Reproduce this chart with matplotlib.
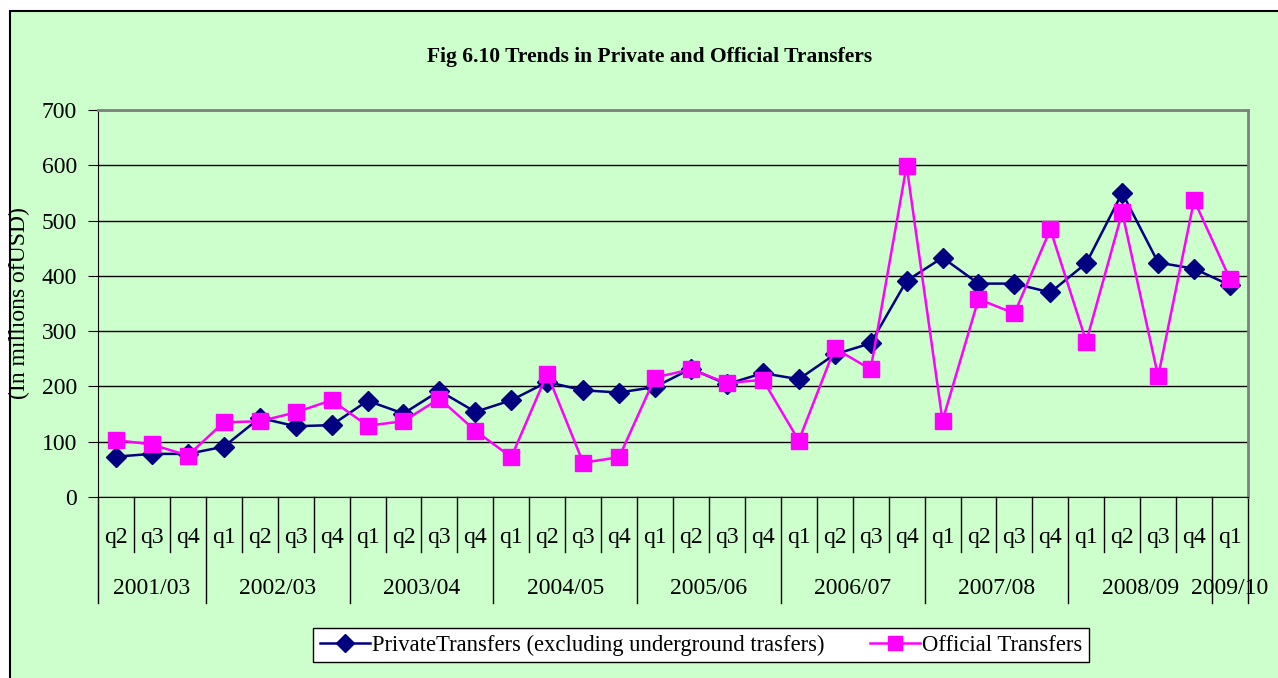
import matplotlib
matplotlib.use("Agg")
import matplotlib.pyplot as plt
from matplotlib.patches import Rectangle

quarters = ["q2", "q3", "q4",
            "q1", "q2", "q3", "q4",
            "q1", "q2", "q3", "q4",
            "q1", "q2", "q3", "q4",
            "q1", "q2", "q3", "q4",
            "q1", "q2", "q3", "q4",
            "q1", "q2", "q3", "q4",
            "q1", "q2", "q3", "q4",
            "q1"]
years = ["2001/03", "2002/03", "2003/04", "2004/05", "2005/06",
         "2006/07", "2007/08", "2008/09", "2009/10"]
year_counts = [3, 4, 4, 4, 4, 4, 4, 4, 1]

private = [73, 78, 78, 91, 143, 128, 130, 174, 151, 192, 154,
           175, 208, 193, 189, 199, 232, 204, 224, 213, 258, 278,
           391, 433, 386, 386, 370, 423, 550, 424, 413, 383]
official = [103, 95, 75, 135, 137, 153, 175, 129, 137, 178, 120,
            72, 223, 62, 72, 216, 231, 206, 212, 102, 269, 231,
            599, 138, 358, 332, 484, 281, 515, 218, 537, 394]

GREEN = "#CCFFCC"
NAVY = "#000080"
MAGENTA = "#FF00FF"
FONT = "Liberation Serif"
FS = 17

W, H = 1278, 678
fig = plt.figure(figsize=(W / 100, H / 100), dpi=100)
fig.patch.set_facecolor("white")
fig.patches.append(Rectangle((10 / W, -0.1), 1.2, 1.1 - 11 / H, transform=fig.transFigure,
                             facecolor=GREEN, edgecolor="black", linewidth=1.5, zorder=-5))

left, right, top, bottom = 98, 1248, 110, 497
ax = fig.add_axes([left / W, 1 - bottom / H, (right - left) / W, (bottom - top) / H])
ax.set_zorder(1)
ax.set_facecolor(GREEN)

n = len(quarters)
xs = [i + 0.5 for i in range(n)]
ax.plot(xs, private, color=NAVY, lw=1.8, marker="D", ms=10.5, mfc=NAVY, mec=NAVY, zorder=3,
        label="PrivateTransfers (excluding underground trasfers)")
ax.plot(xs, official, color=MAGENTA, lw=1.8, marker="s", ms=11.5, mfc=MAGENTA, mec=MAGENTA, zorder=4,
        label="Official Transfers")

ax.set_xlim(0, n)
ax.set_ylim(0, 700)
ax.set_yticks(range(0, 701, 100))
ax.yaxis.grid(True, color="black", lw=1)
ax.set_axisbelow(True)
for s in ["top", "right"]:
    ax.spines[s].set_color("#808080")
    ax.spines[s].set_linewidth(2)
ax.spines["left"].set_color("black")
ax.spines["bottom"].set_color("black")
ax.tick_params(axis="y", direction="out", length=7, labelsize=FS, pad=8)
for t in ax.get_yticklabels():
    t.set_fontfamily(FONT)
ax.set_xticks([])

ph = bottom - top
trans = ax.get_xaxis_transform()
q_line = -(552 - bottom) / ph
y_line = -(603 - bottom) / ph
q_lab = -(537 - bottom) / ph
y_lab = -(588 - bottom) / ph

boundaries = set()
pos = 0
for c in year_counts:
    boundaries.add(pos)
    pos += c
boundaries.add(pos)

for b in range(n + 1):
    y0 = y_line if b in boundaries else q_line
    ax.plot([b, b], [0, y0], color="black", lw=1, transform=trans, clip_on=False)

for i, q in enumerate(quarters):
    ax.text(i + 0.5, q_lab, q, transform=trans, ha="center", va="center",
            fontsize=FS, fontfamily=FONT)

pos = 0
for yr, c in zip(years, year_counts):
    ax.text(pos + c / 2, y_lab, yr, transform=trans, ha="center", va="center",
            fontsize=FS, fontfamily=FONT)
    pos += c

ax.set_ylabel("(In millions ofUSD)", fontsize=FS, fontfamily=FONT)
ax.yaxis.set_label_coords((30 - left) / (right - left), 0.5)

fig.text(650 / W, 1 - 57 / H, "Fig 6.10 Trends in Private and Official Transfers",
         ha="center", va="center", fontsize=15.5, fontweight="bold", fontfamily=FONT)

leg = fig.legend(loc="center", bbox_to_anchor=(701 / W, 1 - 645 / H), ncol=2,
                 frameon=True, fancybox=False, edgecolor="black", facecolor="white",
                 framealpha=1, prop={"family": FONT, "size": 16.3}, handlelength=2.2,
                 columnspacing=2.0, borderpad=0.3, handletextpad=0.1, markerscale=0.9)
leg.get_frame().set_linewidth(1)

fig.savefig("out.png", dpi=100, facecolor=fig.get_facecolor())
